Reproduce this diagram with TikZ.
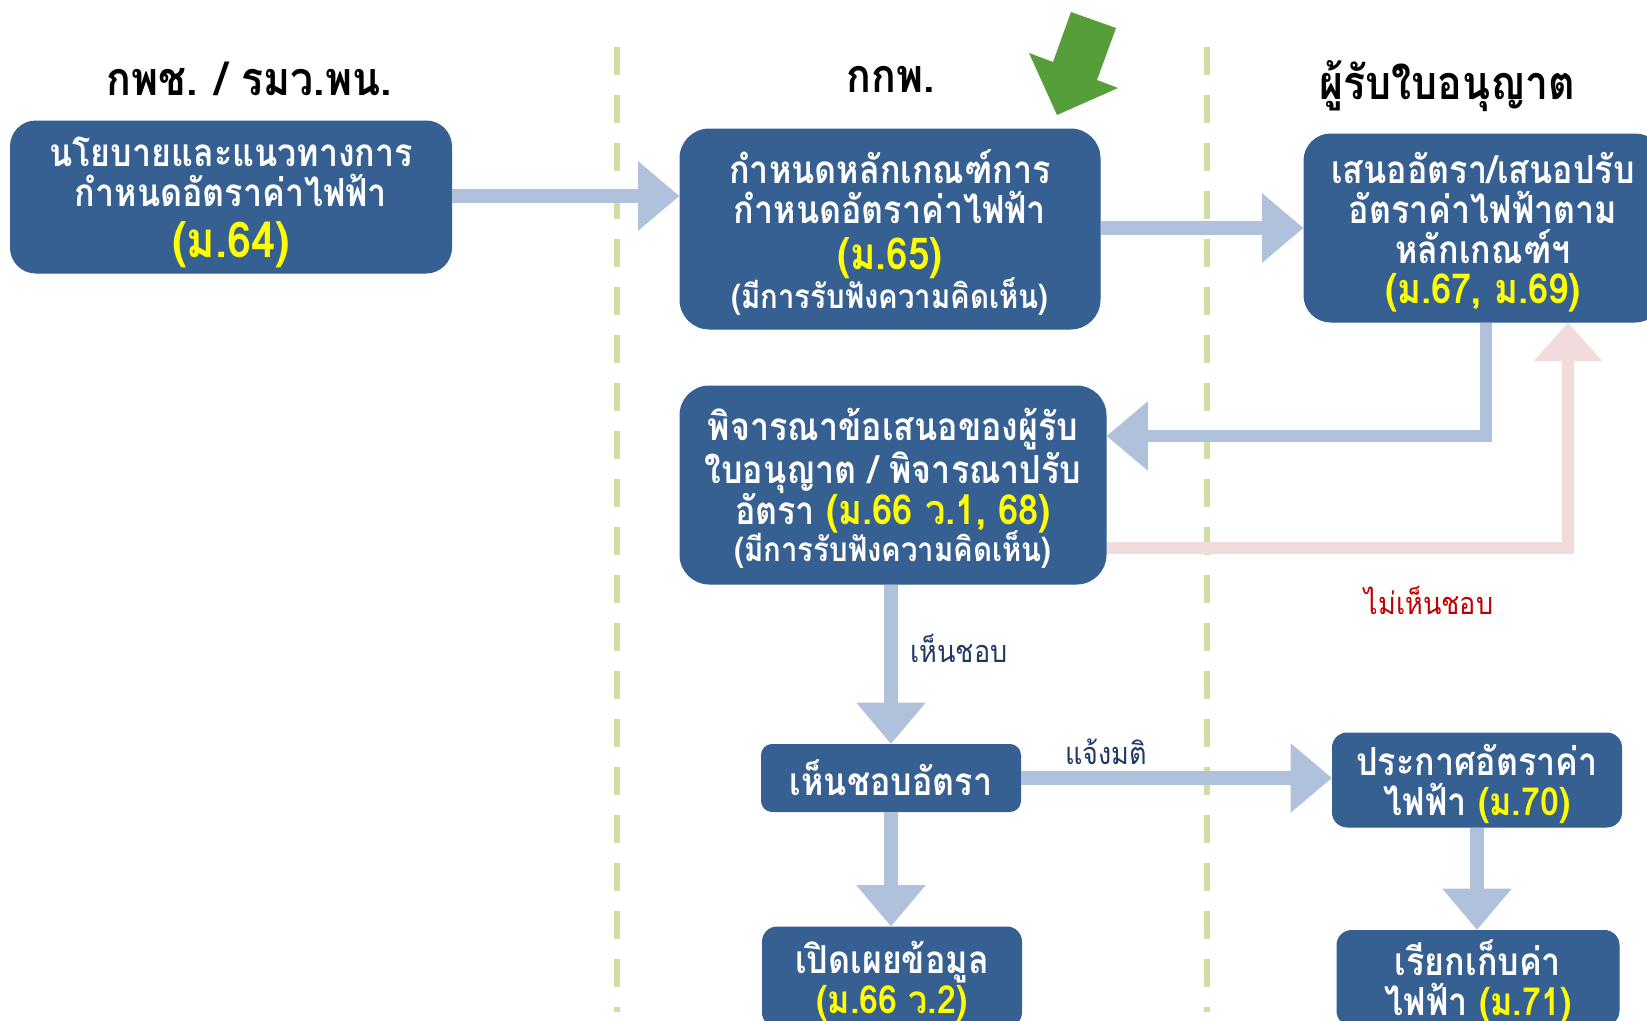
\documentclass[tikz,border=0pt]{standalone}
\usepackage{fontspec}
\setmainfont[Script=Thai,FakeStretch=0.88]{Loma}
\usetikzlibrary{arrows.meta}

\definecolor{boxblue}{RGB}{54,96,146}
\definecolor{flowblue}{RGB}{176,193,220}
\definecolor{rejectpink}{RGB}{242,220,219}
\definecolor{laneline}{RGB}{205,223,165}
\definecolor{markgreen}{RGB}{85,158,58}
\definecolor{refyellow}{RGB}{255,255,0}
\definecolor{notered}{RGB}{192,0,0}
\definecolor{notenavy}{RGB}{31,56,100}

\newcommand{\refsec}[1]{\textcolor{refyellow}{#1}}
\newcommand{\hearingnote}{{\fontsize{25}{28}\selectfont (มีการรับฟังความคิดเห็น)}}

\tikzset{every picture/.style={line width=0.75pt}}
\tikzset{
  stepbox/.style={fill=boxblue, draw=boxblue, text=white, align=center, inner sep=0pt,
    rounded corners=18pt, font=\bfseries\fontsize{29}{30}\selectfont},
  tallbox/.style={stepbox, text depth=0pt},
  lanehead/.style={font=\bfseries\fontsize{35}{36}\selectfont, text=black},
  flow/.style={draw=flowblue, line width=11pt, -{Triangle[length=31pt,width=50pt]}},
  rejectflow/.style={draw=rejectpink, line width=9pt, -{Triangle[length=29pt,width=50pt]}},
  flownote/.style={font=\fontsize{23}{24}\selectfont},
  lane/.style={draw=laneline, line width=4.5pt, dash pattern=on 21pt off 15pt}
}

\begin{document}
\begin{tikzpicture}[x=0.75pt,y=0.75pt,yscale=-1,xscale=1]
\useasboundingbox (0,0) rectangle (1647,1021);

%Straight Lines: lanes
\draw [lane] (617,47) -- (617,1012) ;
\draw [lane] (1207,47) -- (1207,1012) ;

% Text Node: lane heads
\node [lanehead] (headMoen) at (249,79) {กพช. / รมว.พน.};
\node [lanehead] (headErc) at (891,79) {กกพ.};
\node [lanehead] (headLic) at (1447,86) {ผู้รับใบอนุญาต};

%Shape: green marker arrow
\fill [markgreen] (1071,12) -- (1116,28) -- (1097,80) -- (1118,88) -- (1057,115) -- (1029,53) -- (1053,62) -- cycle ;

%Shape: Rounded Rect
\node [tallbox, minimum width=330.75pt, minimum height=114pt, rounded corners=19pt] (policy) at (231,197)
  {นโยบายและแนวทางการ\\กำหนดอัตราค่าไฟฟ้า\\[8pt]{\fontsize{37}{30}\selectfont\refsec{(ม.64)}}};
%Shape: Rounded Rect
\node [tallbox, minimum width=315pt, minimum height=150pt, rounded corners=22pt] (criteria) at (890,229)
  {กำหนดหลักเกณฑ์การ\\กำหนดอัตราค่าไฟฟ้า\\[4pt]{\fontsize{33}{30}\selectfont\refsec{(ม.65)}}\\[-2pt]\hearingnote};
%Shape: Rounded Rect
\node [tallbox, minimum width=268.5pt, minimum height=141pt, rounded corners=20pt] (propose) at (1483,228)
  {เสนออัตรา/เสนอปรับ\\อัตราค่าไฟฟ้าตาม\\หลักเกณฑ์ฯ\\{\fontsize{31}{30}\selectfont\refsec{(ม.67, ม.69)}}};
%Shape: Rounded Rect
\node [tallbox, minimum width=319.5pt, minimum height=148.5pt, rounded corners=22pt] (review) at (893,485)
  {พิจารณาข้อเสนอของผู้รับ\\ใบอนุญาต / พิจารณาปรับ\\[-1pt]อัตรา {\fontsize{31}{30}\selectfont\refsec{(ม.66 ว.1, 68)}}\\[-2pt]\hearingnote};
%Shape: Rounded Rect
\node [stepbox, minimum width=194.25pt, minimum height=50.25pt, rounded corners=8pt] (approve) at (891,778)
  {เห็นชอบอัตรา};
%Shape: Rounded Rect
\node [tallbox, minimum width=194.25pt, minimum height=75pt, rounded corners=11pt] (disclose) at (892,977)
  {เปิดเผยข้อมูล\\\refsec{(ม.66 ว.2)}};
%Shape: Rounded Rect
\node [tallbox, minimum width=216.75pt, minimum height=70.5pt, rounded corners=11pt] (announce) at (1477,780)
  {ประกาศอัตราค่า\\ไฟฟ้า \refsec{(ม.70)}};
%Shape: Rounded Rect
\node [tallbox, minimum width=211.5pt, minimum height=71.25pt, rounded corners=11pt] (collect) at (1478,978)
  {เรียกเก็บค่า\\ไฟฟ้า \refsec{(ม.71)}};

%Straight Lines
\draw [flow] (policy.east |- 0,196) -- (criteria.west |- 0,196) ;
\draw [flow] (criteria.east |- 0,228) -- (propose.west |- 0,228) ;
\coordinate (backTurn) at (1486,436) ;
\draw [flow, line width=9pt] (propose.south -| backTurn) -- (backTurn) -- (backTurn -| review.east) ;
\coordinate (rejectTurn) at (1568,548) ;
\draw [rejectflow] (rejectTurn -| review.east) -- (rejectTurn) -- (rejectTurn |- propose.south) ;
\draw [flow] (review.south -| approve.north) -- (approve.north) ;
\draw [flow] (approve.south) -- (disclose.north -| approve.south) ;
\draw [flow] (approve.east |- 0,778) -- (announce.west |- 0,778) ;
\draw [flow] (announce.south) -- (collect.north -| announce.south) ;

% Text Node
\node [flownote, text=notenavy] (okNote) at (959,648) {เห็นชอบ};
% Text Node
\node [flownote, text=notenavy] (tellNote) at (1106,752) {แจ้งมติ};
% Text Node
\node [flownote, text=notered] (noNote) at (1429,600) {ไม่เห็นชอบ};

\end{tikzpicture}
\end{document}
